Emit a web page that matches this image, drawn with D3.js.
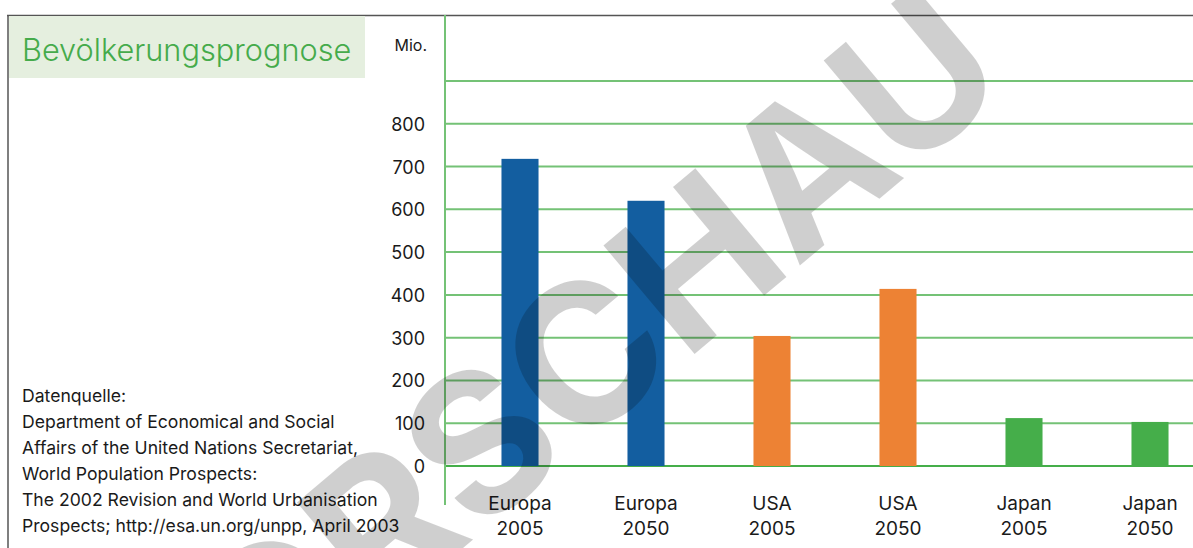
<!DOCTYPE html>
<html>
<head>
<meta charset="utf-8">
<script src="https://cdnjs.cloudflare.com/ajax/libs/d3/7.8.5/d3.min.js"></script>
<style>
  body { margin: 0; background: #fff; }
  svg { display: block; }
  text { font-family: Inter, Lato, sans-serif; fill: #1a1a1a; }
</style>
</head>
<body>
<div class="container"></div>
<script>
// Daten (Mio. Einwohner)
const regions = ["Europa", "Europa", "USA", "USA", "Japan", "Japan"];
const years = ["2005", "2050", "2005", "2050", "2005", "2050"];
const values = [718, 620, 304, 414, 112, 103];
const yTicks = [0, 100, 200, 300, 400, 500, 600, 700, 800];
const gridValues = [0, 100, 200, 300, 400, 500, 600, 700, 800, 900];
const sourceLines = [
  "Datenquelle:",
  "Department of Economical and Social",
  "Affairs of the United Nations Secretariat,",
  "World Population Prospects:",
  "The 2002 Revision and World Urbanisation",
  "Prospects; http://esa.un.org/unpp, April 2003"
];

const W = 1193, H = 548;
const svg = d3.select(".container").append("svg")
  .attr("width", W)
  .attr("height", H);

const keys = regions.map((r, i) => r + " " + years[i]);

const x = d3.scaleBand()
  .domain(keys)
  .range([457, 1213])
  .paddingInner(0.706)
  .paddingOuter(0.353);

const y = d3.scaleLinear()
  .domain([0, 900])
  .range([466, 81]);

const color = d3.scaleOrdinal()
  .domain(["Europa", "USA", "Japan"])
  .range(["#135ea0", "#ed8234", "#45ae4a"]);

// Rahmen
svg.append("line")
  .attr("x1", 7).attr("x2", W)
  .attr("y1", 15.5).attr("y2", 15.5)
  .attr("stroke", "#555").attr("stroke-width", 1.5);
svg.append("line")
  .attr("x1", 8).attr("x2", 8)
  .attr("y1", 15).attr("y2", H)
  .attr("stroke", "#555").attr("stroke-width", 1.5);

// Titel
svg.append("rect")
  .attr("x", 9).attr("y", 16)
  .attr("width", 356).attr("height", 62)
  .attr("fill", "#e5efdf");
svg.append("text")
  .attr("x", 22).attr("y", 61)
  .attr("font-size", "30.7px")
  .attr("font-weight", 300)
  .style("fill", "#45ab4b")
  .text("Bevölkerungsprognose");

// Gitterlinien
svg.append("g")
  .selectAll("line")
  .data(gridValues)
  .join("line")
  .attr("x1", 445).attr("x2", W)
  .attr("y1", d => y(d)).attr("y2", d => y(d))
  .attr("stroke", d => d === 0 ? "#45ae4a" : "#74c276")
  .attr("stroke-width", 2);

// y-Achse
svg.append("line")
  .attr("x1", 445).attr("x2", 445)
  .attr("y1", 15).attr("y2", 505)
  .attr("stroke", "#74c276").attr("stroke-width", 2);

svg.append("g")
  .selectAll("text")
  .data(yTicks)
  .join("text")
  .attr("x", 425)
  .attr("y", d => y(d) + 7)
  .attr("text-anchor", "end")
  .attr("font-size", "18px")
  .text(d => d);

svg.append("text")
  .attr("x", 427).attr("y", 51)
  .attr("text-anchor", "end")
  .attr("font-size", "16px")
  .text("Mio.");

// Balken
svg.append("g")
  .selectAll("rect")
  .data(values)
  .join("rect")
  .attr("x", (d, i) => x(keys[i]))
  .attr("width", x.bandwidth())
  .attr("y", d => y(d))
  .attr("height", d => y(0) - y(d))
  .attr("fill", (d, i) => color(regions[i]));

// x-Beschriftung
const xl = svg.append("g")
  .selectAll("text")
  .data(keys)
  .join("text")
  .attr("text-anchor", "middle")
  .attr("font-size", "19px");
xl.append("tspan")
  .attr("x", d => x(d) + x.bandwidth() / 2)
  .attr("y", 510)
  .text((d, i) => regions[i]);
xl.append("tspan")
  .attr("x", d => x(d) + x.bandwidth() / 2)
  .attr("y", 535)
  .text((d, i) => years[i]);

// Quelle
svg.append("g")
  .selectAll("text")
  .data(sourceLines)
  .join("text")
  .attr("x", 22)
  .attr("y", (d, i) => 402 + i * 26)
  .attr("font-size", "17.6px")
  .text(d => d);

// Wasserzeichen
svg.append("text")
  .attr("transform", "translate(586,445) rotate(-40)")
  .attr("text-anchor", "middle")
  .attr("font-family", "'Liberation Sans', Arial, sans-serif")
  .attr("font-weight", "bold")
  .attr("font-size", "195px")
  .style("fill", "rgba(0,0,0,0.19)")
  .style("pointer-events", "none")
  .text("VORSCHAU");
</script>
</body>
</html>
